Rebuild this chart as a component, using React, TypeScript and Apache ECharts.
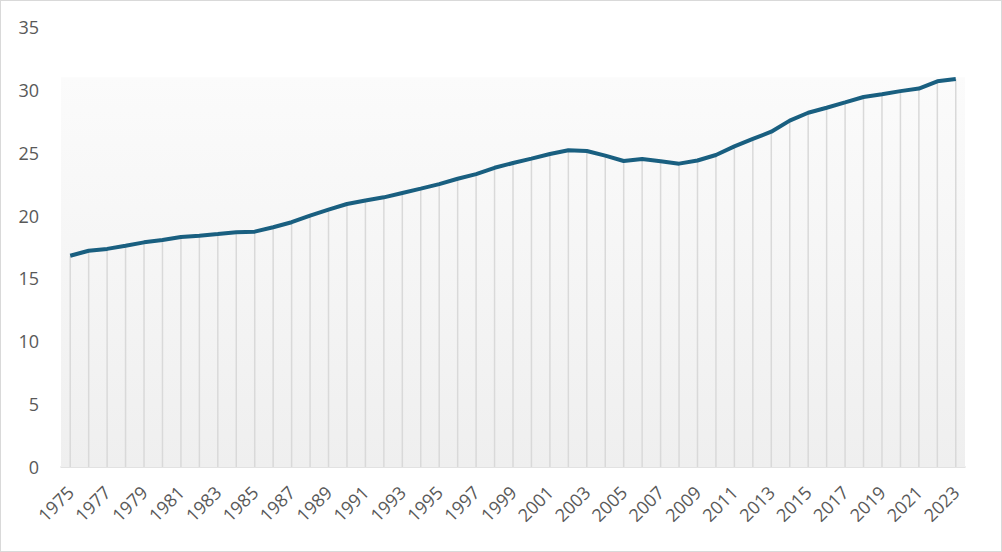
import React, { useEffect, useRef } from "react";
import * as echarts from "echarts";

const years: string[] = [];
for (let y = 1975; y <= 2023; y++) years.push(String(y));

const values: number[] = [
  16.8, 17.2, 17.35, 17.6, 17.87, 18.06, 18.3, 18.4, 18.53, 18.67,
  18.72, 19.07, 19.47, 20.0, 20.47, 20.92, 21.2, 21.45, 21.8, 22.14,
  22.5, 22.93, 23.3, 23.8, 24.18, 24.53, 24.9, 25.2, 25.14, 24.77,
  24.34, 24.5, 24.32, 24.13, 24.38, 24.82, 25.5, 26.1, 26.67, 27.55,
  28.18, 28.58, 29.0, 29.43, 29.65, 29.9, 30.1, 30.68, 30.86,
];

const yMin = 0;
const yMax = 35;
const yStep = 5;
const shadeTop = 31;

export default function App() {
  const ref = useRef<HTMLDivElement>(null);
  useEffect(() => {
    document.body.style.margin = "0";
    if (!ref.current) return;
    const chart = echarts.init(ref.current, undefined, { renderer: "svg" });
    const font = "'Open Sans', 'Liberation Sans', Arial, sans-serif";
    chart.setOption({
      animation: false,
      backgroundColor: "#ffffff",
      grid: { left: 61, right: 37, top: 27, bottom: 85, containLabel: false, outerBoundsMode: "none" },
      xAxis: {
        type: "category",
        data: years,
        boundaryGap: true,
        axisTick: { show: false },
        axisLine: { show: true, lineStyle: { color: "#d9d9d9", width: 1.5 } },
        axisLabel: {
          interval: 1,
          rotate: 45,
          color: "#595959",
          fontSize: 18,
          fontFamily: font,
          margin: 22,
        },
        splitLine: { show: false },
      },
      yAxis: {
        type: "value",
        min: yMin,
        max: yMax,
        interval: yStep,
        axisLine: { show: false },
        axisTick: { show: false },
        splitLine: { show: false },
        axisLabel: { color: "#595959", fontSize: 18, fontFamily: font, margin: 22 },
      },
      series: [
        {
          type: "line",
          data: [],
          z: 1,
          silent: true,
          markArea: {
            silent: true,
            itemStyle: {
              color: new echarts.graphic.LinearGradient(0, 0, 0, 1, [
                { offset: 0, color: "#fbfbfb" },
                { offset: 1, color: "#efefef" },
              ]),
            },
            data: [[{ yAxis: yMin }, { yAxis: shadeTop }]],
          },
        },
        {
          type: "bar",
          data: values,
          barWidth: 1.5,
          z: 3,
          silent: true,
          itemStyle: { color: "#d9d9d9" },
        },
        {
          type: "line",
          data: values,
          z: 5,
          symbol: "none",
          lineStyle: { color: "#195f80", width: 4 },
          itemStyle: { color: "#195f80" },
        },
      ],
    });
    return () => chart.dispose();
  }, []);
  return (
    <div style={{ width: 1002, height: 552, position: "relative" }}>
      <div ref={ref} style={{ position: "absolute", left: 0, top: 0, width: 1002, height: 552 }} />
      <div
        style={{
          position: "absolute",
          left: 0,
          top: 0,
          width: 1002,
          height: 552,
          boxSizing: "border-box",
          border: "1.5px solid #d9d9d9",
          pointerEvents: "none",
        }}
      />
    </div>
  );
}
